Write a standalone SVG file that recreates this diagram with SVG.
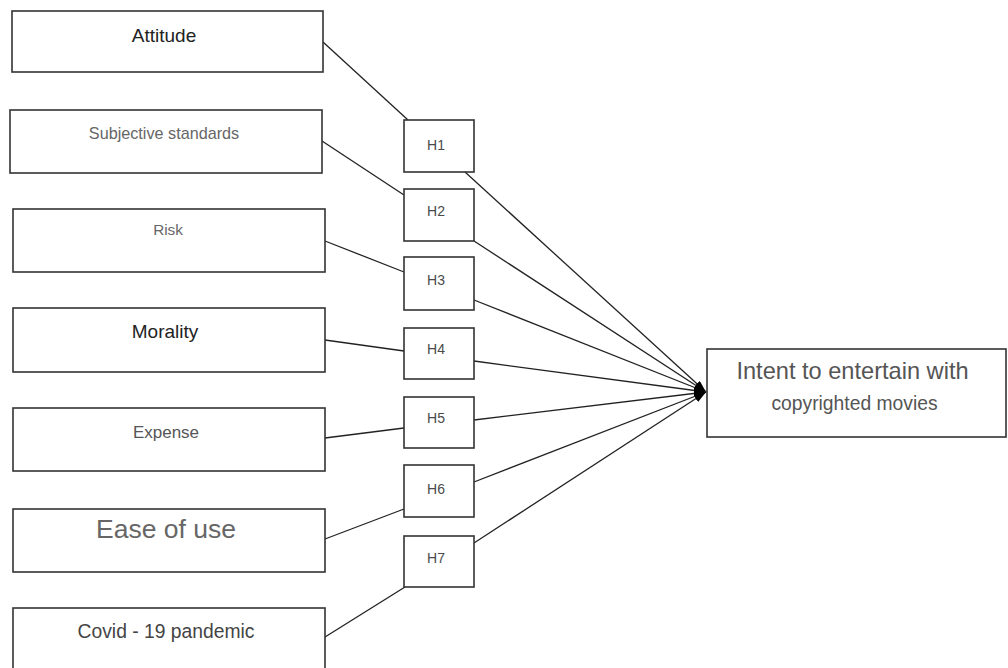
<svg xmlns="http://www.w3.org/2000/svg" width="1008" height="668" viewBox="0 0 1008 668">
<style>
  .box{fill:#fff;stroke:#333;stroke-width:1.6}
  .t{font-family:"Liberation Sans",Arial,sans-serif;text-anchor:middle}
  .h{font-family:"Liberation Sans",Arial,sans-serif;text-anchor:middle;font-size:14px;fill:#4a4a4a}
  .c{fill:none;stroke:#222;stroke-width:1.3}
</style>
<defs>
  <marker id="arr" viewBox="0 0 12 8" refX="12" refY="4" markerWidth="12" markerHeight="8" markerUnits="userSpaceOnUse" orient="auto">
    <path d="M0,0 L12,4 L0,8 z" fill="#000"/>
  </marker>
</defs>
<rect width="1008" height="668" fill="#fff"/>
<g id="connectors">
  <line class="c" x1="323" y1="42" x2="408" y2="120"/>
  <line class="c" x1="322" y1="141" x2="404" y2="195"/>
  <line class="c" x1="325" y1="241" x2="404" y2="272"/>
  <line class="c" x1="325" y1="340" x2="404" y2="351"/>
  <line class="c" x1="325" y1="438" x2="404" y2="428"/>
  <line class="c" x1="325" y1="539" x2="404" y2="509"/>
  <line class="c" x1="325" y1="637" x2="405" y2="587"/>
  <line class="c" x1="465" y1="172" x2="706" y2="392" marker-end="url(#arr)"/>
  <line class="c" x1="474" y1="241" x2="706" y2="392" marker-end="url(#arr)"/>
  <line class="c" x1="474" y1="300" x2="706" y2="392" marker-end="url(#arr)"/>
  <line class="c" x1="474" y1="361" x2="706" y2="392" marker-end="url(#arr)"/>
  <line class="c" x1="474" y1="420" x2="706" y2="392" marker-end="url(#arr)"/>
  <line class="c" x1="474" y1="482" x2="706" y2="392" marker-end="url(#arr)"/>
  <line class="c" x1="474" y1="543" x2="706" y2="392" marker-end="url(#arr)"/>
</g>
<g id="attitude">
  <rect class="box" x="12" y="11" width="311" height="61"/>
  <text class="t" x="164" y="42" font-size="19" fill="#222">Attitude</text>
</g>
<g id="subjective">
  <rect class="box" x="10" y="110" width="312" height="63"/>
  <text class="t" x="164" y="139" font-size="16.2" fill="#666">Subjective standards</text>
</g>
<g id="risk">
  <rect class="box" x="13" y="209" width="312" height="63"/>
  <text class="t" x="168" y="235" font-size="15.3" fill="#666">Risk</text>
</g>
<g id="morality">
  <rect class="box" x="13" y="308" width="312" height="64"/>
  <text class="t" x="165" y="338" font-size="19" fill="#222">Morality</text>
</g>
<g id="expense">
  <rect class="box" x="13" y="408" width="312" height="63"/>
  <text class="t" x="166" y="438" font-size="17" fill="#555">Expense</text>
</g>
<g id="ease">
  <rect class="box" x="13" y="509" width="312" height="63"/>
  <text class="t" x="166" y="538" font-size="26.5" fill="#666">Ease of use</text>
</g>
<g id="covid">
  <rect class="box" x="13" y="608" width="312" height="70"/>
  <text class="t" x="166" y="638" font-size="19.3" fill="#444">Covid - 19 pandemic</text>
</g>
<g id="h1"><rect class="box" x="404" y="120" width="70" height="52"/><text class="h" x="436" y="150">H1</text></g>
<g id="h2"><rect class="box" x="404" y="189" width="70" height="52"/><text class="h" x="436" y="216">H2</text></g>
<g id="h3"><rect class="box" x="404" y="257" width="70" height="53"/><text class="h" x="436" y="285">H3</text></g>
<g id="h4"><rect class="box" x="404" y="328" width="70" height="51"/><text class="h" x="436" y="354">H4</text></g>
<g id="h5"><rect class="box" x="404" y="397" width="70" height="51"/><text class="h" x="436" y="423">H5</text></g>
<g id="h6"><rect class="box" x="404" y="465" width="70" height="52"/><text class="h" x="436" y="494">H6</text></g>
<g id="h7"><rect class="box" x="404" y="536" width="70" height="51"/><text class="h" x="436" y="563">H7</text></g>
<g id="intent">
  <rect class="box" x="707" y="349" width="299" height="88"/>
  <text class="t" x="852.5" y="379" font-size="23.6" fill="#555">Intent to entertain with</text>
  <text class="t" x="854.5" y="410" font-size="19.3" fill="#555">copyrighted movies</text>
</g>
</svg>
